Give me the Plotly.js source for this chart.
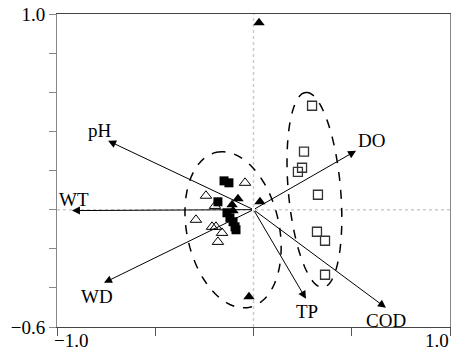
<!DOCTYPE html>
<html>
<head>
<meta charset="utf-8">
<script src="https://cdn.plot.ly/plotly-3.0.1.min.js"></script>
<style>html,body{margin:0;padding:0;background:#fff;}#chart{width:457px;height:355px;}</style>
</head>
<body>
<div id="chart"></div>
<script>
// Environmental variable vectors (tips of arrows from origin)
const envNames = ['pH', 'WT', 'WD', 'DO', 'TP', 'COD'];
const envX = [-0.740, -0.924, -0.761, 0.522, 0.267, 0.674];
const envY = [0.352, -0.005, -0.374, 0.301, -0.456, -0.502];

// Sample scores
const filledSqX = [-0.150, -0.125, -0.181, -0.135, -0.120, -0.104, -0.094, -0.089];
const filledSqY = [0.147, 0.137, 0.040, -0.016, -0.042, -0.062, -0.088, -0.103];
const filledTriX = [-0.079, 0.033, -0.109, -0.104, 0.028, -0.023];
const filledTriY = [0.055, 0.040, 0.025, -0.006, 0.955, -0.446];
const openTriX = [-0.043, -0.242, -0.196, -0.293, -0.211, -0.191, -0.160, -0.181];
const openTriY = [0.137, 0.071, 0.019, -0.052, -0.088, -0.088, -0.119, -0.165];
const openSqX = [0.298, 0.257, 0.247, 0.226, 0.328, 0.323, 0.364, 0.364];
const openSqY = [0.531, 0.296, 0.214, 0.193, 0.076, -0.113, -0.159, -0.333];

// Group ellipses: centre x, centre y, semi-major, semi-minor, tilt (deg from vertical)
const ellCX = [-0.104, 0.310];
const ellCY = [-0.103, 0.101];
const ellA = [0.405, 0.500];
const ellB = [0.235, 0.133];
const ellTilt = [12, 5];

// Axis ticks
const xTickVals = [-1, -0.5, 0, 0.5, 1];
const yTickVals = [-0.6, -0.4, -0.2, 0, 0.2, 0.4, 0.6, 0.8, 1.0];
const yTickText = ['\u22120.6', '', '', '', '', '', '', '', '1.0'];
const xEndLabels = ['\u22121.0', '1.0'];

// label offsets (px) relative to arrow tips
const labelShift = {
  pH: [-8, 10], WT: [2, 11], WD: [-7, -14], DO: [15, 10], TP: [1, -13], COD: [0, -13]
};

const FONT = '"Liberation Serif", "Times New Roman", Times, serif';

function ellipsePath(cx, cy, a, b, tiltDeg) {
  const t = tiltDeg * Math.PI / 180;
  const ux = -Math.sin(t), uy = Math.cos(t);
  const vx = Math.cos(t), vy = Math.sin(t);
  let d = '';
  const n = 120;
  for (let i = 0; i <= n; i++) {
    const p = 2 * Math.PI * i / n;
    const x = cx + a * Math.cos(p) * ux + b * Math.sin(p) * vx;
    const y = cy + a * Math.cos(p) * uy + b * Math.sin(p) * vy;
    d += (i === 0 ? 'M' : 'L') + x.toFixed(4) + ',' + y.toFixed(4);
  }
  return d + 'Z';
}

const traces = [
  {x: openTriX, y: openTriY, mode: 'markers', type: 'scatter',
   marker: {symbol: 'triangle-up-open', size: 10, color: '#000', line: {width: 1, color: '#000'}}},
  {x: openSqX, y: openSqY, mode: 'markers', type: 'scatter',
   marker: {symbol: 'square-open', size: 9, color: '#333', line: {width: 1.3, color: '#333'}}},
  {x: filledSqX, y: filledSqY, mode: 'markers', type: 'scatter',
   marker: {symbol: 'square', size: 9, color: '#000'}},
  {x: filledTriX, y: filledTriY, mode: 'markers', type: 'scatter',
   marker: {symbol: 'triangle-up', size: 10, color: '#000'}}
];

const shapes = [
  {type: 'line', xref: 'paper', yref: 'y', x0: 0, x1: 1, y0: 0, y1: 0,
   line: {color: '#cccccc', width: 1.5, dash: 'dot'}, layer: 'below'},
  {type: 'line', xref: 'x', yref: 'paper', x0: 0, x1: 0, y0: 0, y1: 1,
   line: {color: '#cccccc', width: 1.5, dash: 'dot'}, layer: 'below'}
];
for (let i = 0; i < ellCX.length; i++) {
  shapes.push({type: 'path', xref: 'x', yref: 'y',
    path: ellipsePath(ellCX[i], ellCY[i], ellA[i], ellB[i], ellTilt[i]),
    line: {color: '#000', width: 1.5, dash: 'dash'}});
}

const annotations = [];
for (let i = 0; i < envNames.length; i++) {
  annotations.push({x: envX[i], y: envY[i], ax: 0, ay: 0, axref: 'x', ayref: 'y',
    xref: 'x', yref: 'y', text: '', showarrow: true, arrowhead: 2, arrowsize: 1.6,
    arrowwidth: 1, arrowcolor: '#000'});
  const s = labelShift[envNames[i]];
  annotations.push({x: envX[i], y: envY[i], xref: 'x', yref: 'y', text: envNames[i],
    showarrow: false, xshift: s[0], yshift: s[1], xanchor: 'center', yanchor: 'middle',
    font: {family: FONT, size: 19, color: '#000'}});
}
annotations.push({x: xTickVals[0], y: 0, xref: 'x', yref: 'paper', text: xEndLabels[0],
  showarrow: false, xanchor: 'left', yanchor: 'top', xshift: -5, yshift: -1,
  font: {family: FONT, size: 19, color: '#000'}});
annotations.push({x: xTickVals[xTickVals.length - 1], y: 0, xref: 'x', yref: 'paper', text: xEndLabels[1],
  showarrow: false, xanchor: 'right', yanchor: 'top', xshift: 1, yshift: -1,
  font: {family: FONT, size: 19, color: '#000'}});

const layout = {
  width: 457, height: 355,
  margin: {l: 57, r: 7, t: 14, b: 28, pad: 0},
  paper_bgcolor: '#fff', plot_bgcolor: '#fff',
  showlegend: false,
  font: {family: FONT, size: 19, color: '#000'},
  xaxis: {range: [-1, 1], tickvals: xTickVals, ticktext: xTickVals.map(() => ''),
    ticks: 'outside', ticklen: 8, tickcolor: '#555', tickwidth: 1,
    showline: true, linecolor: '#444', linewidth: 1, mirror: true,
    showgrid: false, zeroline: false, fixedrange: true},
  yaxis: {range: [-0.6, 1.0], tickvals: yTickVals, ticktext: yTickText,
    ticks: 'outside', ticklen: 7, tickcolor: '#888', tickwidth: 1,
    showline: true, linecolor: '#888', linewidth: 1, mirror: true,
    showgrid: false, zeroline: false, fixedrange: true,
    tickfont: {family: FONT, size: 19, color: '#000'}},
  shapes: shapes,
  annotations: annotations
};

Plotly.newPlot('chart', traces, layout, {displayModeBar: false, staticPlot: true});
</script>
</body>
</html>
